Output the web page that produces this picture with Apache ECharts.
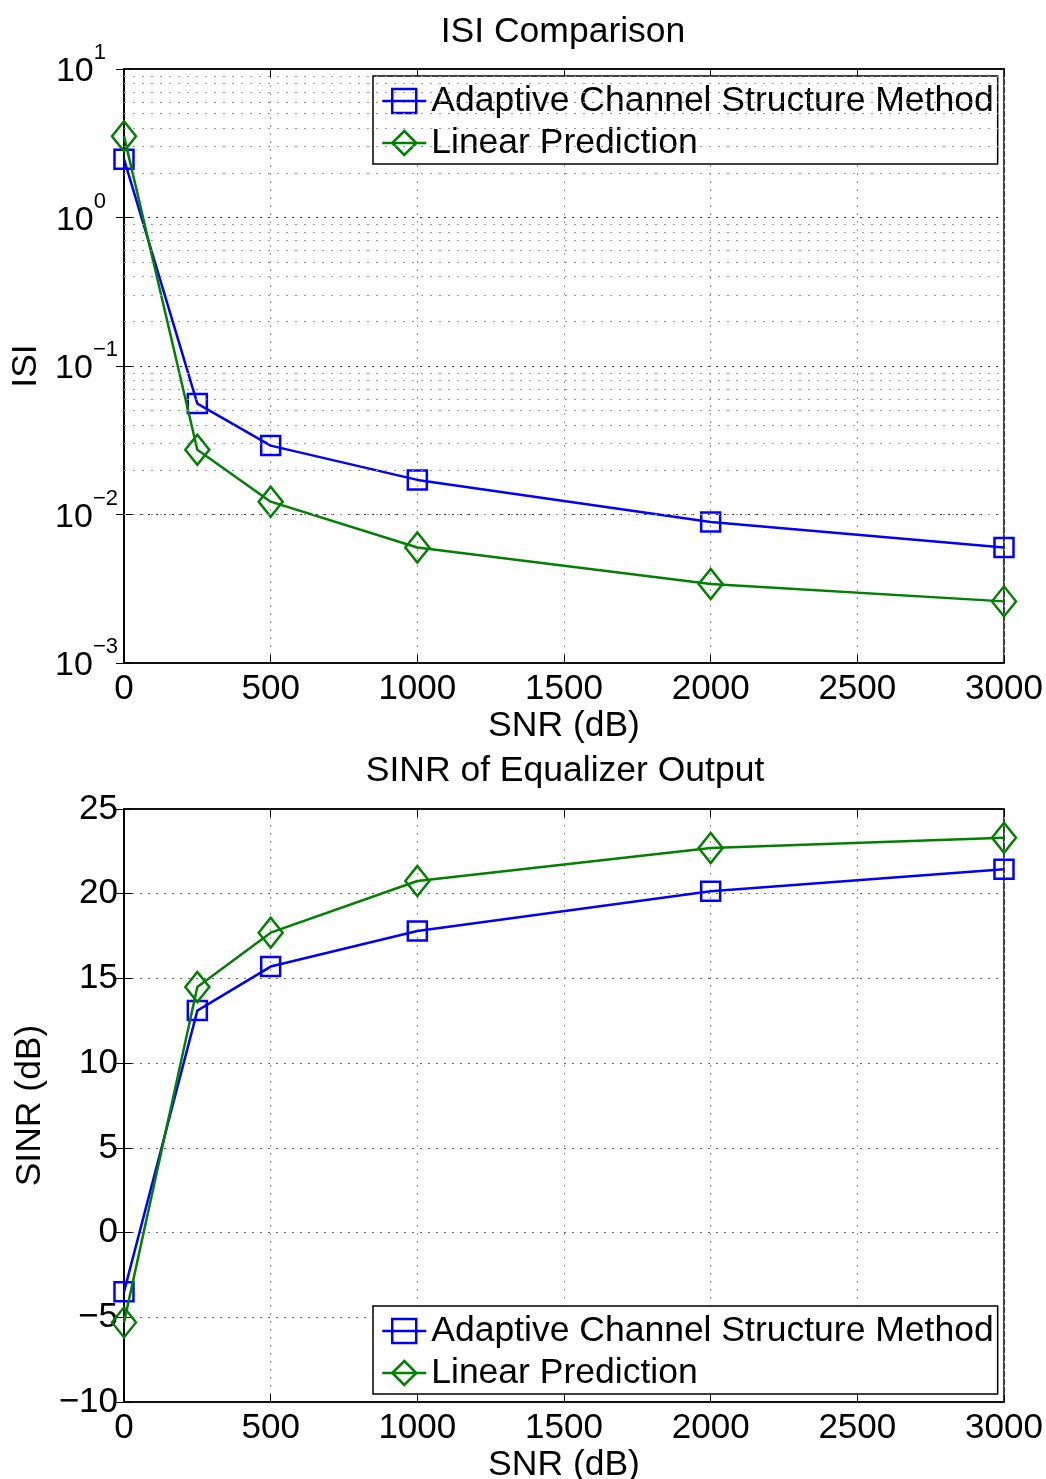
<!DOCTYPE html>
<html><head><meta charset="utf-8">
<script src="https://cdn.jsdelivr.net/npm/echarts@6/dist/echarts.min.js"></script>
<style>html,body{margin:0;padding:0;background:#fff}#c{width:1046px;height:1479px}</style>
</head><body><div id="c"></div>
<script>
const snr = [0, 250, 500, 1000, 2000, 3000];
const isiAdaptive = [2.47, 0.0558, 0.0291, 0.0171, 0.0089, 0.0060];
const isiLinear = [3.53, 0.0273, 0.0122, 0.0060, 0.0034, 0.0026];
const sinrAdaptive = [-3.5, 13.1, 15.7, 17.8, 20.15, 21.45];
const sinrLinear = [-5.3, 14.5, 17.7, 20.75, 22.7, 23.3];
const seriesNames = ['Adaptive Channel Structure Method', 'Linear Prediction'];

const FONT = 'Liberation Sans, Arial, sans-serif';
const BLUE = '#0000ff', GREEN = '#008000';
const TICK_FS = 35, TEXT_FS = 35.5;

const minorLog = [];
[0.001, 0.01, 0.1, 1].forEach(d => { for (let m = 2; m <= 9; m++) minorLog.push(+(d * m).toPrecision(3)); });

function pairs(xs, ys) { return xs.map((x, i) => [x, ys[i]]); }
function supLabel(v) {
  const e = Math.round(Math.log10(v));
  return e < 0 ? '{b|10}{s|\u2212' + (-e) + '}' : '{b|10}{s|' + e + '}{p| }';
}
const plain = v => (v < 0 ? '\u2212' + (-v) : '' + v);

const grids = [
  { left: 124, right: 42, top: 69, height: 594 },
  { left: 124, right: 42, top: 809, height: 593 }
];

const xBase = (gi) => ({
  type: 'value', gridIndex: gi, min: 0, max: 3000, interval: 500,
  axisLine: { onZero: false, lineStyle: { color: '#000', width: 1.5 } },
  axisTick: { inside: true, length: 8, lineStyle: { color: '#000' } },
  axisLabel: { color: '#000', fontSize: TICK_FS, fontFamily: FONT, margin: 9, formatter: plain },
  splitLine: { show: true, lineStyle: { color: '#999', type: [2, 6], width: 1 } },
  name: 'SNR (dB)', nameLocation: 'middle', nameGap: 33,
  nameTextStyle: { color: '#000', fontSize: TEXT_FS, fontFamily: FONT }
});
const xTop = (gi) => ({
  type: 'value', gridIndex: gi, min: 0, max: 3000, interval: 500, position: 'top',
  axisLine: { onZero: false, lineStyle: { color: '#000', width: 1.5 } },
  axisTick: { inside: true, length: 8, lineStyle: { color: '#000' } },
  axisLabel: { show: false }, splitLine: { show: false }
});
const legendBase = (top) => ({
  orient: 'vertical', left: 373, top: top, data: seriesNames, itemWidth: 44, itemHeight: 30, itemGap: 6,
  padding: [7, 4, 3, 8], borderColor: '#000', borderWidth: 1.5, backgroundColor: '#fff',
  lineStyle: { width: 2.5 }, itemStyle: { borderWidth: 2.5 },
  textStyle: { fontSize: TEXT_FS, fontFamily: FONT, color: '#000', padding: [0, 0, 0, 0] }
});

const option = {
  backgroundColor: '#fff',
  animation: false,
  title: [
    { text: 'ISI Comparison', left: 558, top: 9, textAlign: 'center',
      textStyle: { fontSize: TEXT_FS, fontWeight: 'normal', color: '#000', fontFamily: FONT } },
    { text: 'SINR of Equalizer Output', left: 560, top: 748, textAlign: 'center',
      textStyle: { fontSize: TEXT_FS, fontWeight: 'normal', color: '#000', fontFamily: FONT } }
  ],
  grid: grids.map(g => Object.assign({ show: true, borderColor: '#000', borderWidth: 1.5, backgroundColor: '#fff',
    containLabel: false, outerBoundsMode: 'none' }, g)),
  legend: [legendBase(76), legendBase(1306)],
  xAxis: [xBase(0), xBase(1), xTop(0), xTop(1)],
  yAxis: [
    { type: 'log', logBase: 10, gridIndex: 0, min: 0.001, max: 10,
      axisLine: { lineStyle: { color: '#000', width: 1.5 } },
      axisTick: { inside: true, length: 8, lineStyle: { color: '#000' } },
      axisLabel: { color: '#000', fontFamily: FONT, margin: 6, formatter: supLabel, padding: [0, 0, 8, 0],
        rich: { b: { fontSize: 34, fontFamily: FONT, color: '#000', verticalAlign: 'bottom', lineHeight: 48 },
                s: { fontSize: 22, fontFamily: FONT, color: '#000', verticalAlign: 'top', lineHeight: 22,
                     padding: [1, 0, 0, 0] },
                p: { fontSize: 22, fontFamily: FONT, width: 12, lineHeight: 22 } } },
      splitLine: { show: true, lineStyle: { color: '#333', type: [2, 6], width: 1 } },
      name: 'ISI', nameLocation: 'middle', nameGap: 77, nameRotate: 90,
      nameTextStyle: { color: '#000', fontSize: TEXT_FS, fontFamily: FONT } },
    { type: 'value', gridIndex: 1, min: -10, max: 25, interval: 5,
      axisLine: { onZero: false, lineStyle: { color: '#000', width: 1.5 } },
      axisTick: { inside: true, length: 8, lineStyle: { color: '#000' } },
      axisLabel: { color: '#000', fontSize: TICK_FS, fontFamily: FONT, margin: 6, formatter: plain },
      splitLine: { show: true, lineStyle: { color: '#666', type: [2, 6], width: 1 } },
      name: 'SINR (dB)', nameLocation: 'middle', nameGap: 59, nameRotate: 90,
      nameTextStyle: { color: '#000', fontSize: TEXT_FS, fontFamily: FONT } },
    { type: 'log', logBase: 10, gridIndex: 0, min: 0.001, max: 10, position: 'right',
      axisLine: { lineStyle: { color: '#000', width: 1.5 } },
      axisTick: { inside: true, length: 8, lineStyle: { color: '#000' } },
      axisLabel: { show: false }, splitLine: { show: false } },
    { type: 'value', gridIndex: 1, min: -10, max: 25, interval: 5, position: 'right',
      axisLine: { lineStyle: { color: '#000', width: 1.5 } },
      axisTick: { inside: true, length: 8, lineStyle: { color: '#000' } },
      axisLabel: { show: false }, splitLine: { show: false } }
  ],
  series: [
    { name: seriesNames[0], type: 'line', xAxisIndex: 0, yAxisIndex: 0, data: pairs(snr, isiAdaptive),
      symbol: 'rect', symbolSize: 19, showAllSymbol: true,
      lineStyle: { color: BLUE, width: 2.5 }, itemStyle: { color: 'rgba(0,0,0,0)', borderColor: BLUE, borderWidth: 2.5 },
      markLine: { silent: true, symbol: 'none', label: { show: false },
        lineStyle: { color: '#999', type: [2, 7], width: 1 },
        data: minorLog.map(v => ({ yAxis: v })) }, z: 2 },
    { name: seriesNames[1], type: 'line', xAxisIndex: 0, yAxisIndex: 0, data: pairs(snr, isiLinear),
      symbol: 'diamond', symbolSize: [24, 30], showAllSymbol: true,
      lineStyle: { color: GREEN, width: 2.5 }, itemStyle: { color: 'rgba(0,0,0,0)', borderColor: GREEN, borderWidth: 2.5 }, z: 3 },
    { name: seriesNames[0], type: 'line', xAxisIndex: 1, yAxisIndex: 1, data: pairs(snr, sinrAdaptive),
      symbol: 'rect', symbolSize: 19, showAllSymbol: true,
      lineStyle: { color: BLUE, width: 2.5 }, itemStyle: { color: 'rgba(0,0,0,0)', borderColor: BLUE, borderWidth: 2.5 }, z: 2 },
    { name: seriesNames[1], type: 'line', xAxisIndex: 1, yAxisIndex: 1, data: pairs(snr, sinrLinear),
      symbol: 'diamond', symbolSize: [24, 30], showAllSymbol: true,
      lineStyle: { color: GREEN, width: 2.5 }, itemStyle: { color: 'rgba(0,0,0,0)', borderColor: GREEN, borderWidth: 2.5 }, z: 3 }
  ]
};
echarts.init(document.getElementById('c')).setOption(option);
</script></body></html>
